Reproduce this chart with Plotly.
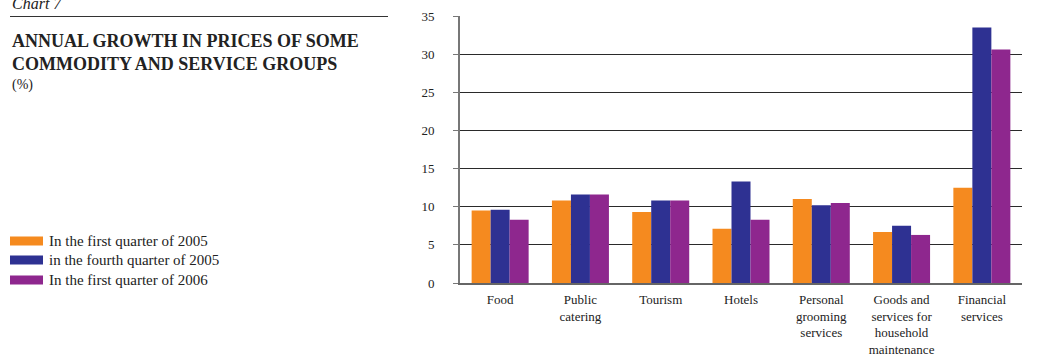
import plotly.graph_objects as go

# Data: annual growth in prices (%)
categories = [
    "Food",
    "Public<br>catering",
    "Tourism",
    "Hotels",
    "Personal<br>grooming<br>services",
    "Goods and<br>services for<br>household<br>maintenance",
    "Financial<br>services",
]
q1_2005 = [9.5, 10.8, 9.3, 7.1, 11.0, 6.7, 12.5]
q4_2005 = [9.6, 11.6, 10.8, 13.3, 10.2, 7.5, 33.5]
q1_2006 = [8.3, 11.6, 10.8, 8.3, 10.5, 6.3, 30.6]

series_names = [
    "In the first quarter of 2005",
    "in the fourth quarter of 2005",
    "In the first quarter of 2006",
]
series_values = [q1_2005, q4_2005, q1_2006]
colors = ["#F58A1F", "#2E3192", "#8E278E"]

y_ticks = [0, 5, 10, 15, 20, 25, 30, 35]

W, H = 1050, 354
L, R, T, B = 460, 28, 16, 71
PW, PH = W - L - R, H - T - B

SERIF = "Liberation Serif, Times New Roman, serif"


def px_x(x):
    return (x - L) / PW


def px_y(y):
    return (H - B - y) / PH


fig = go.Figure()
for name, vals, col in zip(series_names, series_values, colors):
    fig.add_trace(go.Bar(x=categories, y=vals, name=name, marker=dict(color=col, line=dict(width=0)),
                         showlegend=False))

axis_font = dict(family=SERIF, size=13, color="#222")

fig.update_layout(
    width=W, height=H,
    margin=dict(l=L, r=R, t=T, b=B, pad=0, autoexpand=False),
    paper_bgcolor="white", plot_bgcolor="white",
    barmode="group", bargap=0.29, bargroupgap=0,
    font=dict(family=SERIF, color="#222"),
    xaxis=dict(
        showgrid=False, ticks="", tickfont=axis_font, automargin=False,
        showline=True, linecolor="#666", linewidth=2,
        tickangle=0, ticklabelstandoff=3,
    ),
    yaxis=dict(
        range=[0, 35], tickvals=y_ticks, tickfont=axis_font, automargin=False,
        showgrid=True, gridcolor="#2a2a2a", gridwidth=1,
        zeroline=False,
        showline=True, linecolor="#777", linewidth=2,
        ticks="outside", ticklen=5, tickcolor="#777", tickwidth=1,
        ticklabelstandoff=16,
    ),
    yaxis2=dict(
        range=[0, 35], tickvals=y_ticks, tickfont=axis_font, automargin=False,
        overlaying="y", side="right", anchor="x",
        showgrid=False, zeroline=False,
        showline=True, linecolor="#777", linewidth=2,
        ticks="outside", ticklen=5, tickcolor="#777", tickwidth=1,
        ticklabelstandoff=15,
    ),
)

annotations = []
shapes = []

# Header block
annotations.append(dict(text="<i>Chart 7</i>", x=px_x(10), y=px_y(4), xref="paper", yref="paper",
                        xanchor="left", yanchor="middle", showarrow=False,
                        font=dict(family=SERIF, size=16, color="#222")))
shapes.append(dict(type="line", xref="paper", yref="paper", x0=px_x(10), x1=px_x(388),
                   y0=px_y(16.5), y1=px_y(16.5), line=dict(color="#333", width=1)))
annotations.append(dict(text="<b>ANNUAL GROWTH IN PRICES OF SOME</b>", x=px_x(10), y=px_y(41),
                        xref="paper", yref="paper", xanchor="left", yanchor="middle", showarrow=False,
                        font=dict(family=SERIF, size=18, color="#222")))
annotations.append(dict(text="<b>COMMODITY AND SERVICE GROUPS</b>", x=px_x(10), y=px_y(64),
                        xref="paper", yref="paper", xanchor="left", yanchor="middle", showarrow=False,
                        font=dict(family=SERIF, size=18, color="#222")))
annotations.append(dict(text="(%)", x=px_x(10), y=px_y(85), xref="paper", yref="paper",
                        xanchor="left", yanchor="middle", showarrow=False,
                        font=dict(family=SERIF, size=14, color="#222")))

# Legend drawn as swatches and labels
legend_rows = [241, 260, 280]
for name, col, yc in zip(series_names, colors, legend_rows):
    shapes.append(dict(type="rect", xref="paper", yref="paper", x0=px_x(10), x1=px_x(43),
                       y0=px_y(yc + 4.5), y1=px_y(yc - 4.5), fillcolor=col, line=dict(width=0)))
    annotations.append(dict(text=name, x=px_x(47), y=px_y(yc), xref="paper", yref="paper",
                            xanchor="left", yanchor="middle", showarrow=False,
                            font=dict(family=SERIF, size=15, color="#222")))

fig.update_layout(annotations=annotations, shapes=shapes)

fig.write_html("out.html")
